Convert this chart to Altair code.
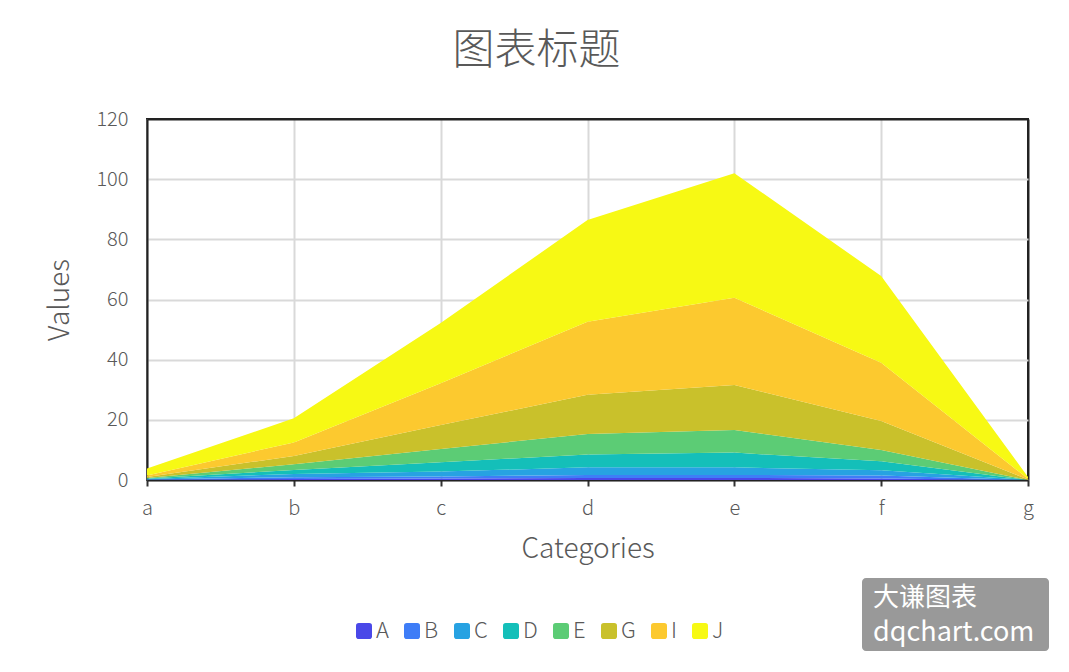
import altair as alt
import pandas as pd

categories = ["a", "b", "c", "d", "e", "f", "g"]
series_names = ["A", "B", "C", "D", "E", "G", "I", "J"]
A = [0.1, 0.3, 0.5, 0.7, 0.7, 0.5, 0.0]
B = [0.1, 0.6, 0.7, 1.0, 1.0, 1.0, 0.0]
C = [0.1, 1.1, 1.6, 2.5, 2.5, 1.7, 0.0]
D = [0.2, 1.3, 3.1, 4.3, 4.9, 3.0, 0.0]
E = [0.2, 1.9, 4.4, 6.8, 7.5, 3.8, 0.0]
G = [0.3, 2.8, 8.0, 13.0, 15.0, 9.6, 0.2]
I = [0.5, 4.5, 13.9, 24.3, 29.0, 19.4, 0.2]
J = [2.3, 8.0, 20.0, 33.8, 41.4, 28.8, 0.6]
colors = ["#4A48E8", "#3E7DF7", "#27A2E2", "#14BFB9", "#5CCC75", "#C9C12B", "#FCC92F", "#F7F914"]
y_ticks = [0, 20, 40, 60, 80, 100, 120]

series_values = [A, B, C, D, E, G, I, J]
rows = []
for si, (name, vals) in enumerate(zip(series_names, series_values)):
    for cat, v in zip(categories, vals):
        rows.append({"category": cat, "series": name, "value": v, "order": si})
df = pd.DataFrame(rows)

FONT = "Noto Sans CJK SC"
GRAY = "#595959"
FRAME = "#222222"
GRID = "#d9d9d9"

rounded = "M-0.65,-1 L0.65,-1 Q1,-1 1,-0.65 L1,0.65 Q1,1 0.65,1 L-0.65,1 Q-1,1 -1,0.65 L-1,-0.65 Q-1,-1 -0.65,-1 Z"

areas = alt.Chart(df).mark_area(opacity=1).encode(
    x=alt.X("category:O", scale=alt.Scale(type="point", padding=0, domain=categories),
            axis=alt.Axis(title="Categories", labelAngle=0, grid=True,
                          gridColor=alt.condition("datum.value == 'g'", alt.value(FRAME), alt.value(GRID)),
                          gridWidth=2,
                          ticks=True, tickSize=6, tickColor="#333333", tickWidth=2,
                          domainColor=FRAME, domainWidth=2,
                          labelPadding=12, titlePadding=17)),
    y=alt.Y("value:Q", stack="zero", scale=alt.Scale(domain=[0, 120], nice=False),
            axis=alt.Axis(title="Values", values=y_ticks, grid=True,
                          gridColor=alt.condition("datum.value == 120", alt.value(FRAME), alt.value(GRID)),
                          gridWidth=2,
                          ticks=False, labelPadding=19, titlePadding=21,
                          domainColor=FRAME, domainWidth=2)),
    color=alt.Color("series:N", scale=alt.Scale(domain=series_names, range=colors),
                    legend=alt.Legend(title=None, orient="none", direction="horizontal",
                                      legendX=206, legendY=501, symbolType=rounded, symbolSize=256,
                                      symbolStrokeWidth=0, labelFontSize=22, labelFont=FONT, labelColor=GRAY,
                                      labelFontWeight=300, labelOffset=1, columnPadding=12)),
    order=alt.Order("order:Q", sort="ascending"),
)

wm = pd.DataFrame({"t": ["大谦图表"]})
wm_rect = alt.Chart(wm).mark_rect(color="#999999", cornerRadius=4).encode(
    x=alt.value(715), x2=alt.value(902), y=alt.value(459), y2=alt.value(532))
wm_t1 = alt.Chart(wm).mark_text(text="大谦图表", font=FONT, fontSize=26, color="white", align="left",
                                baseline="alphabetic").encode(x=alt.value(726), y=alt.value(487))
wm_t2 = alt.Chart(wm).mark_text(text="dqchart.com", font=FONT, fontSize=27, color="white", align="left",
                                baseline="alphabetic").encode(x=alt.value(726), y=alt.value(522))

chart = alt.layer(areas, wm_rect, wm_t1, wm_t2).properties(
    width=881, height=361,
    title=alt.TitleParams("图表标题", fontSize=42, font=FONT, color=GRAY, fontWeight=300,
                          anchor="middle", frame="group", dx=-51, offset=36),
    autosize=alt.AutoSizeParams(type="none"),
    padding={"left": 139, "top": 111, "right": 33, "bottom": 176},
    background="white",
).configure_view(stroke=FRAME, strokeWidth=2).configure_axis(
    labelFont=FONT, titleFont=FONT, labelFontSize=20, titleFontSize=28, labelColor=GRAY,
    titleColor=GRAY, titleFontWeight=300, labelFontWeight=300
)

chart.save("out.html", embed_options={"renderer": "svg", "actions": False})
